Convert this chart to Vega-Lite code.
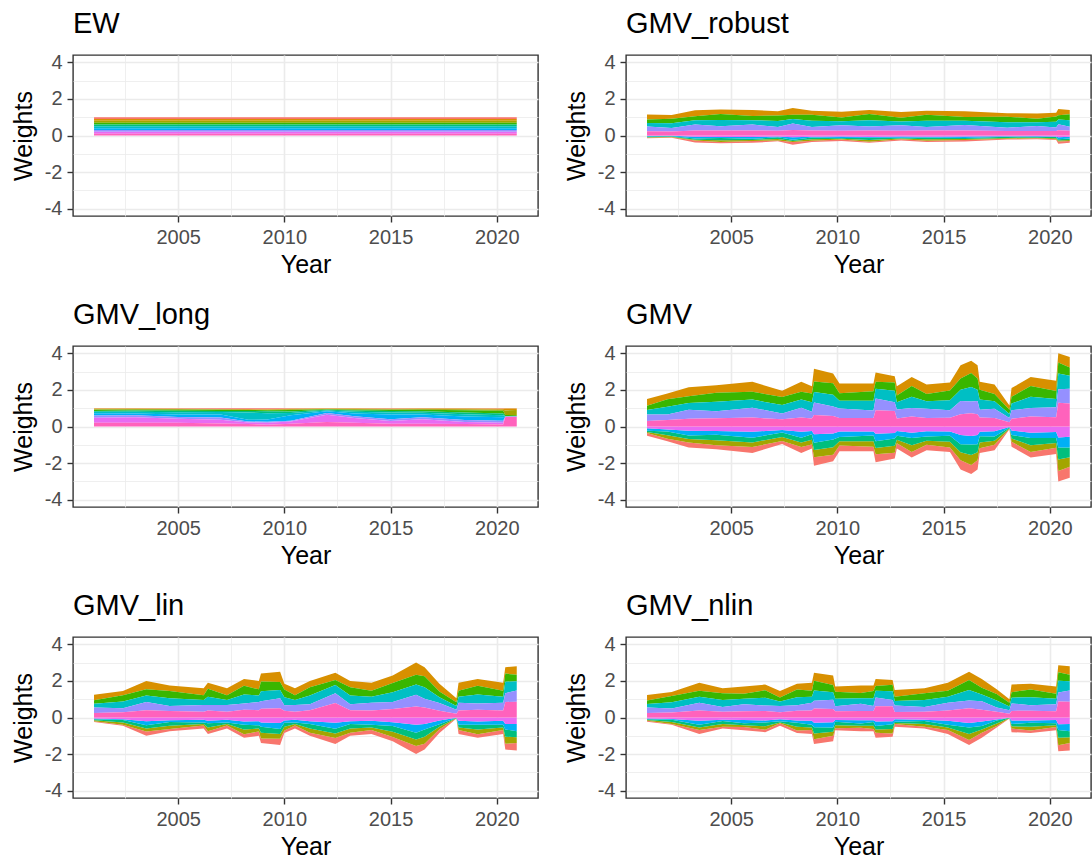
{
"$schema":"https://vega.github.io/schema/vega-lite/v6.json",
"columns":2,
"bounds":"flush",
"spacing":{"row":130,"column":88},
"padding":{"left":10,"top":9,"right":0,"bottom":5},
"config":{
"view":{"stroke":"#333333","strokeWidth":1.4},
"axis":{"domain":false,"gridColor":"#EBEBEB","tickColor":"#333333","tickSize":6,"tickWidth":1.4,"labelColor":"#4D4D4D","labelFontSize":20,"labelFont":"Liberation Sans","titleFont":"Liberation Sans","titleFontSize":25,"titleFontWeight":"normal","titleColor":"#000000","labelPadding":5,"titlePadding":5},
"axisY":{"titlePadding":8},
"title":{"font":"Liberation Sans","fontSize":29,"fontWeight":"normal","color":"#000000","anchor":"start","frame":"group","baseline":"alphabetic","offset":13}
},
"datasets":{
"EW":[
{"t":2001.04,"s":1,"w":0.1},{"t":2001.04,"s":2,"w":0.1},{"t":2001.04,"s":3,"w":0.1},{"t":2001.04,"s":4,"w":0.1},{"t":2001.04,"s":5,"w":0.1},{"t":2001.04,"s":6,"w":0.1},{"t":2001.04,"s":7,"w":0.1},{"t":2001.04,"s":8,"w":0.1},{"t":2001.04,"s":9,"w":0.1},{"t":2001.04,"s":10,"w":0.1},
{"t":2020.94,"s":1,"w":0.1},{"t":2020.94,"s":2,"w":0.1},{"t":2020.94,"s":3,"w":0.1},{"t":2020.94,"s":4,"w":0.1},{"t":2020.94,"s":5,"w":0.1},{"t":2020.94,"s":6,"w":0.1},{"t":2020.94,"s":7,"w":0.1},{"t":2020.94,"s":8,"w":0.1},{"t":2020.94,"s":9,"w":0.1},{"t":2020.94,"s":10,"w":0.1}
],
"ROB":[
{"t":2001.04,"s":1,"w":-0.03},{"t":2001.04,"s":2,"w":0.27},{"t":2001.04,"s":3,"w":-0.03},{"t":2001.04,"s":4,"w":0.19},{"t":2001.04,"s":5,"w":-0.03},{"t":2001.04,"s":6,"w":0.2},{"t":2001.04,"s":7,"w":-0.03},{"t":2001.04,"s":8,"w":0.26},{"t":2001.04,"s":9,"w":-0.03},{"t":2001.04,"s":10,"w":0.23},
{"t":2002.2,"s":1,"w":-0.02},{"t":2002.2,"s":2,"w":0.2},{"t":2002.2,"s":3,"w":-0.03},{"t":2002.2,"s":4,"w":0.25},{"t":2002.2,"s":5,"w":-0.03},{"t":2002.2,"s":6,"w":0.26},{"t":2002.2,"s":7,"w":-0.02},{"t":2002.2,"s":8,"w":0.19},{"t":2002.2,"s":9,"w":-0.02},{"t":2002.2,"s":10,"w":0.22},
{"t":2003.3,"s":1,"w":-0.1},{"t":2003.3,"s":2,"w":0.33},{"t":2003.3,"s":3,"w":-0.05},{"t":2003.3,"s":4,"w":0.22},{"t":2003.3,"s":5,"w":-0.06},{"t":2003.3,"s":6,"w":0.23},{"t":2003.3,"s":7,"w":-0.1},{"t":2003.3,"s":8,"w":0.32},{"t":2003.3,"s":9,"w":-0.07},{"t":2003.3,"s":10,"w":0.28},
{"t":2004.5,"s":1,"w":-0.06},{"t":2004.5,"s":2,"w":0.24},{"t":2004.5,"s":3,"w":-0.1},{"t":2004.5,"s":4,"w":0.33},{"t":2004.5,"s":5,"w":-0.12},{"t":2004.5,"s":6,"w":0.35},{"t":2004.5,"s":7,"w":-0.06},{"t":2004.5,"s":8,"w":0.22},{"t":2004.5,"s":9,"w":-0.08},{"t":2004.5,"s":10,"w":0.28},
{"t":2006,"s":1,"w":-0.1},{"t":2006,"s":2,"w":0.33},{"t":2006,"s":3,"w":-0.06},{"t":2006,"s":4,"w":0.23},{"t":2006,"s":5,"w":-0.06},{"t":2006,"s":6,"w":0.24},{"t":2006,"s":7,"w":-0.1},{"t":2006,"s":8,"w":0.32},{"t":2006,"s":9,"w":-0.08},{"t":2006,"s":10,"w":0.28},
{"t":2007.2,"s":1,"w":-0.05},{"t":2007.2,"s":2,"w":0.22},{"t":2007.2,"s":3,"w":-0.08},{"t":2007.2,"s":4,"w":0.31},{"t":2007.2,"s":5,"w":-0.09},{"t":2007.2,"s":6,"w":0.33},{"t":2007.2,"s":7,"w":-0.04},{"t":2007.2,"s":8,"w":0.2},{"t":2007.2,"s":9,"w":-0.06},{"t":2007.2,"s":10,"w":0.26},
{"t":2007.9,"s":1,"w":-0.14},{"t":2007.9,"s":2,"w":0.36},{"t":2007.9,"s":3,"w":-0.06},{"t":2007.9,"s":4,"w":0.24},{"t":2007.9,"s":5,"w":-0.07},{"t":2007.9,"s":6,"w":0.25},{"t":2007.9,"s":7,"w":-0.13},{"t":2007.9,"s":8,"w":0.35},{"t":2007.9,"s":9,"w":-0.1},{"t":2007.9,"s":10,"w":0.3},
{"t":2008.8,"s":1,"w":-0.06},{"t":2008.8,"s":2,"w":0.22},{"t":2008.8,"s":3,"w":-0.08},{"t":2008.8,"s":4,"w":0.32},{"t":2008.8,"s":5,"w":-0.1},{"t":2008.8,"s":6,"w":0.34},{"t":2008.8,"s":7,"w":-0.04},{"t":2008.8,"s":8,"w":0.2},{"t":2008.8,"s":9,"w":-0.07},{"t":2008.8,"s":10,"w":0.27},
{"t":2010.2,"s":1,"w":-0.08},{"t":2010.2,"s":2,"w":0.31},{"t":2010.2,"s":3,"w":-0.04},{"t":2010.2,"s":4,"w":0.21},{"t":2010.2,"s":5,"w":-0.05},{"t":2010.2,"s":6,"w":0.22},{"t":2010.2,"s":7,"w":-0.07},{"t":2010.2,"s":8,"w":0.3},{"t":2010.2,"s":9,"w":-0.06},{"t":2010.2,"s":10,"w":0.26},
{"t":2011.5,"s":1,"w":-0.06},{"t":2011.5,"s":2,"w":0.23},{"t":2011.5,"s":3,"w":-0.1},{"t":2011.5,"s":4,"w":0.33},{"t":2011.5,"s":5,"w":-0.12},{"t":2011.5,"s":6,"w":0.35},{"t":2011.5,"s":7,"w":-0.04},{"t":2011.5,"s":8,"w":0.21},{"t":2011.5,"s":9,"w":-0.08},{"t":2011.5,"s":10,"w":0.28},
{"t":2013,"s":1,"w":-0.08},{"t":2013,"s":2,"w":0.31},{"t":2013,"s":3,"w":-0.04},{"t":2013,"s":4,"w":0.2},{"t":2013,"s":5,"w":-0.04},{"t":2013,"s":6,"w":0.21},{"t":2013,"s":7,"w":-0.07},{"t":2013,"s":8,"w":0.3},{"t":2013,"s":9,"w":-0.05},{"t":2013,"s":10,"w":0.26},
{"t":2014.2,"s":1,"w":-0.06},{"t":2014.2,"s":2,"w":0.22},{"t":2014.2,"s":3,"w":-0.08},{"t":2014.2,"s":4,"w":0.32},{"t":2014.2,"s":5,"w":-0.1},{"t":2014.2,"s":6,"w":0.34},{"t":2014.2,"s":7,"w":-0.04},{"t":2014.2,"s":8,"w":0.2},{"t":2014.2,"s":9,"w":-0.07},{"t":2014.2,"s":10,"w":0.27},
{"t":2016,"s":1,"w":-0.09},{"t":2016,"s":2,"w":0.32},{"t":2016,"s":3,"w":-0.05},{"t":2016,"s":4,"w":0.21},{"t":2016,"s":5,"w":-0.05},{"t":2016,"s":6,"w":0.22},{"t":2016,"s":7,"w":-0.08},{"t":2016,"s":8,"w":0.31},{"t":2016,"s":9,"w":-0.06},{"t":2016,"s":10,"w":0.27},
{"t":2018,"s":1,"w":-0.04},{"t":2018,"s":2,"w":0.2},{"t":2018,"s":3,"w":-0.05},{"t":2018,"s":4,"w":0.29},{"t":2018,"s":5,"w":-0.06},{"t":2018,"s":6,"w":0.3},{"t":2018,"s":7,"w":-0.03},{"t":2018,"s":8,"w":0.19},{"t":2018,"s":9,"w":-0.04},{"t":2018,"s":10,"w":0.24},
{"t":2019.4,"s":1,"w":-0.05},{"t":2019.4,"s":2,"w":0.28},{"t":2019.4,"s":3,"w":-0.03},{"t":2019.4,"s":4,"w":0.2},{"t":2019.4,"s":5,"w":-0.04},{"t":2019.4,"s":6,"w":0.2},{"t":2019.4,"s":7,"w":-0.04},{"t":2019.4,"s":8,"w":0.28},{"t":2019.4,"s":9,"w":-0.04},{"t":2019.4,"s":10,"w":0.24},
{"t":2020.3,"s":1,"w":-0.04},{"t":2020.3,"s":2,"w":0.21},{"t":2020.3,"s":3,"w":-0.06},{"t":2020.3,"s":4,"w":0.29},{"t":2020.3,"s":5,"w":-0.07},{"t":2020.3,"s":6,"w":0.31},{"t":2020.3,"s":7,"w":-0.03},{"t":2020.3,"s":8,"w":0.19},{"t":2020.3,"s":9,"w":-0.05},{"t":2020.3,"s":10,"w":0.25},
{"t":2020.4,"s":1,"w":-0.12},{"t":2020.4,"s":2,"w":0.34},{"t":2020.4,"s":3,"w":-0.06},{"t":2020.4,"s":4,"w":0.24},{"t":2020.4,"s":5,"w":-0.07},{"t":2020.4,"s":6,"w":0.25},{"t":2020.4,"s":7,"w":-0.11},{"t":2020.4,"s":8,"w":0.33},{"t":2020.4,"s":9,"w":-0.09},{"t":2020.4,"s":10,"w":0.29},
{"t":2020.94,"s":1,"w":-0.1},{"t":2020.94,"s":2,"w":0.24},{"t":2020.94,"s":3,"w":-0.06},{"t":2020.94,"s":4,"w":0.33},{"t":2020.94,"s":5,"w":-0.07},{"t":2020.94,"s":6,"w":0.35},{"t":2020.94,"s":7,"w":-0.1},{"t":2020.94,"s":8,"w":0.22},{"t":2020.94,"s":9,"w":-0.07},{"t":2020.94,"s":10,"w":0.26}
],
"LONG":[
{"t":2001.04,"s":1,"w":0.02},{"t":2001.04,"s":2,"w":0.04},{"t":2001.04,"s":3,"w":0.03},{"t":2001.04,"s":4,"w":0.06},{"t":2001.04,"s":5,"w":0.05},{"t":2001.04,"s":6,"w":0.08},{"t":2001.04,"s":7,"w":0.12},{"t":2001.04,"s":8,"w":0.12},{"t":2001.04,"s":9,"w":0.28},{"t":2001.04,"s":10,"w":0.2},
{"t":2003,"s":1,"w":0.02},{"t":2003,"s":2,"w":0.03},{"t":2003,"s":3,"w":0.03},{"t":2003,"s":4,"w":0.05},{"t":2003,"s":5,"w":0.06},{"t":2003,"s":6,"w":0.1},{"t":2003,"s":7,"w":0.1},{"t":2003,"s":8,"w":0.1},{"t":2003,"s":9,"w":0.3},{"t":2003,"s":10,"w":0.21},
{"t":2005,"s":1,"w":0.03},{"t":2005,"s":2,"w":0.02},{"t":2005,"s":3,"w":0.04},{"t":2005,"s":4,"w":0.05},{"t":2005,"s":5,"w":0.08},{"t":2005,"s":6,"w":0.12},{"t":2005,"s":7,"w":0.14},{"t":2005,"s":8,"w":0.1},{"t":2005,"s":9,"w":0.22},{"t":2005,"s":10,"w":0.2},
{"t":2007,"s":1,"w":0.04},{"t":2007,"s":2,"w":0.03},{"t":2007,"s":3,"w":0.02},{"t":2007,"s":4,"w":0.06},{"t":2007,"s":5,"w":0.06},{"t":2007,"s":6,"w":0.14},{"t":2007,"s":7,"w":0.16},{"t":2007,"s":8,"w":0.12},{"t":2007,"s":9,"w":0.2},{"t":2007,"s":10,"w":0.17},
{"t":2008.3,"s":1,"w":0.05},{"t":2008.3,"s":2,"w":0.03},{"t":2008.3,"s":3,"w":0.02},{"t":2008.3,"s":4,"w":0.05},{"t":2008.3,"s":5,"w":0.08},{"t":2008.3,"s":6,"w":0.4},{"t":2008.3,"s":7,"w":0.1},{"t":2008.3,"s":8,"w":0.05},{"t":2008.3,"s":9,"w":0.08},{"t":2008.3,"s":10,"w":0.14},
{"t":2009.2,"s":1,"w":0.06},{"t":2009.2,"s":2,"w":0.02},{"t":2009.2,"s":3,"w":0.03},{"t":2009.2,"s":4,"w":0.06},{"t":2009.2,"s":5,"w":0.1},{"t":2009.2,"s":6,"w":0.35},{"t":2009.2,"s":7,"w":0.12},{"t":2009.2,"s":8,"w":0.06},{"t":2009.2,"s":9,"w":0.1},{"t":2009.2,"s":10,"w":0.1},
{"t":2010.3,"s":1,"w":0.03},{"t":2010.3,"s":2,"w":0.03},{"t":2010.3,"s":3,"w":0.04},{"t":2010.3,"s":4,"w":0.08},{"t":2010.3,"s":5,"w":0.08},{"t":2010.3,"s":6,"w":0.12},{"t":2010.3,"s":7,"w":0.3},{"t":2010.3,"s":8,"w":0.05},{"t":2010.3,"s":9,"w":0.12},{"t":2010.3,"s":10,"w":0.15},
{"t":2012,"s":1,"w":0.02},{"t":2012,"s":2,"w":0.02},{"t":2012,"s":3,"w":0.02},{"t":2012,"s":4,"w":0.03},{"t":2012,"s":5,"w":0.03},{"t":2012,"s":6,"w":0.04},{"t":2012,"s":7,"w":0.1},{"t":2012,"s":8,"w":0.1},{"t":2012,"s":9,"w":0.4},{"t":2012,"s":10,"w":0.24},
{"t":2013.3,"s":1,"w":0.02},{"t":2013.3,"s":2,"w":0.03},{"t":2013.3,"s":3,"w":0.03},{"t":2013.3,"s":4,"w":0.05},{"t":2013.3,"s":5,"w":0.06},{"t":2013.3,"s":6,"w":0.1},{"t":2013.3,"s":7,"w":0.15},{"t":2013.3,"s":8,"w":0.1},{"t":2013.3,"s":9,"w":0.26},{"t":2013.3,"s":10,"w":0.2},
{"t":2015,"s":1,"w":0.03},{"t":2015,"s":2,"w":0.03},{"t":2015,"s":3,"w":0.03},{"t":2015,"s":4,"w":0.06},{"t":2015,"s":5,"w":0.08},{"t":2015,"s":6,"w":0.12},{"t":2015,"s":7,"w":0.25},{"t":2015,"s":8,"w":0.1},{"t":2015,"s":9,"w":0.15},{"t":2015,"s":10,"w":0.15},
{"t":2016.5,"s":1,"w":0.02},{"t":2016.5,"s":2,"w":0.03},{"t":2016.5,"s":3,"w":0.04},{"t":2016.5,"s":4,"w":0.08},{"t":2016.5,"s":5,"w":0.08},{"t":2016.5,"s":6,"w":0.1},{"t":2016.5,"s":7,"w":0.15},{"t":2016.5,"s":8,"w":0.1},{"t":2016.5,"s":9,"w":0.25},{"t":2016.5,"s":10,"w":0.15},
{"t":2018.5,"s":1,"w":0.02},{"t":2018.5,"s":2,"w":0.04},{"t":2018.5,"s":3,"w":0.05},{"t":2018.5,"s":4,"w":0.12},{"t":2018.5,"s":5,"w":0.1},{"t":2018.5,"s":6,"w":0.12},{"t":2018.5,"s":7,"w":0.2},{"t":2018.5,"s":8,"w":0.1},{"t":2018.5,"s":9,"w":0.12},{"t":2018.5,"s":10,"w":0.13},
{"t":2020.3,"s":1,"w":0.03},{"t":2020.3,"s":2,"w":0.05},{"t":2020.3,"s":3,"w":0.06},{"t":2020.3,"s":4,"w":0.15},{"t":2020.3,"s":5,"w":0.1},{"t":2020.3,"s":6,"w":0.1},{"t":2020.3,"s":7,"w":0.2},{"t":2020.3,"s":8,"w":0.1},{"t":2020.3,"s":9,"w":0.1},{"t":2020.3,"s":10,"w":0.11},
{"t":2020.4,"s":1,"w":0.02},{"t":2020.4,"s":2,"w":0.1},{"t":2020.4,"s":3,"w":0.25},{"t":2020.4,"s":4,"w":0.05},{"t":2020.4,"s":5,"w":0.02},{"t":2020.4,"s":6,"w":0.01},{"t":2020.4,"s":7,"w":0.01},{"t":2020.4,"s":8,"w":0.01},{"t":2020.4,"s":9,"w":0.01},{"t":2020.4,"s":10,"w":0.52},
{"t":2020.94,"s":1,"w":0.02},{"t":2020.94,"s":2,"w":0.08},{"t":2020.94,"s":3,"w":0.28},{"t":2020.94,"s":4,"w":0.04},{"t":2020.94,"s":5,"w":0.02},{"t":2020.94,"s":6,"w":0.01},{"t":2020.94,"s":7,"w":0.01},{"t":2020.94,"s":8,"w":0.01},{"t":2020.94,"s":9,"w":0.01},{"t":2020.94,"s":10,"w":0.52}
],
"GMV":[
{"t":2001.04,"s":1,"w":-0.14},{"t":2001.04,"s":2,"w":0.36},{"t":2001.04,"s":3,"w":-0.06},{"t":2001.04,"s":4,"w":0.24},{"t":2001.04,"s":5,"w":-0.07},{"t":2001.04,"s":6,"w":0.25},{"t":2001.04,"s":7,"w":-0.13},{"t":2001.04,"s":8,"w":0.35},{"t":2001.04,"s":9,"w":-0.1},{"t":2001.04,"s":10,"w":0.3},
{"t":2002,"s":1,"w":-0.13},{"t":2002,"s":2,"w":0.31},{"t":2002,"s":3,"w":-0.19},{"t":2002,"s":4,"w":0.41},{"t":2002,"s":5,"w":-0.21},{"t":2002,"s":6,"w":0.43},{"t":2002,"s":7,"w":-0.11},{"t":2002,"s":8,"w":0.29},{"t":2002,"s":9,"w":-0.16},{"t":2002,"s":10,"w":0.36},
{"t":2003,"s":1,"w":-0.27},{"t":2003,"s":2,"w":0.49},{"t":2003,"s":3,"w":-0.19},{"t":2003,"s":4,"w":0.37},{"t":2003,"s":5,"w":-0.2},{"t":2003,"s":6,"w":0.38},{"t":2003,"s":7,"w":-0.26},{"t":2003,"s":8,"w":0.48},{"t":2003,"s":9,"w":-0.23},{"t":2003,"s":10,"w":0.43},
{"t":2004.3,"s":1,"w":-0.22},{"t":2004.3,"s":2,"w":0.4},{"t":2004.3,"s":3,"w":-0.28},{"t":2004.3,"s":4,"w":0.5},{"t":2004.3,"s":5,"w":-0.3},{"t":2004.3,"s":6,"w":0.52},{"t":2004.3,"s":7,"w":-0.2},{"t":2004.3,"s":8,"w":0.38},{"t":2004.3,"s":9,"w":-0.25},{"t":2004.3,"s":10,"w":0.45},
{"t":2006,"s":1,"w":-0.33},{"t":2006,"s":2,"w":0.55},{"t":2006,"s":3,"w":-0.25},{"t":2006,"s":4,"w":0.43},{"t":2006,"s":5,"w":-0.26},{"t":2006,"s":6,"w":0.44},{"t":2006,"s":7,"w":-0.32},{"t":2006,"s":8,"w":0.54},{"t":2006,"s":9,"w":-0.29},{"t":2006,"s":10,"w":0.49},
{"t":2007.4,"s":1,"w":-0.16},{"t":2007.4,"s":2,"w":0.34},{"t":2007.4,"s":3,"w":-0.22},{"t":2007.4,"s":4,"w":0.44},{"t":2007.4,"s":5,"w":-0.24},{"t":2007.4,"s":6,"w":0.46},{"t":2007.4,"s":7,"w":-0.14},{"t":2007.4,"s":8,"w":0.32},{"t":2007.4,"s":9,"w":-0.19},{"t":2007.4,"s":10,"w":0.39},
{"t":2008.3,"s":1,"w":-0.33},{"t":2008.3,"s":2,"w":0.55},{"t":2008.3,"s":3,"w":-0.25},{"t":2008.3,"s":4,"w":0.43},{"t":2008.3,"s":5,"w":-0.26},{"t":2008.3,"s":6,"w":0.44},{"t":2008.3,"s":7,"w":-0.32},{"t":2008.3,"s":8,"w":0.54},{"t":2008.3,"s":9,"w":-0.29},{"t":2008.3,"s":10,"w":0.49},
{"t":2008.8,"s":1,"w":-0.21},{"t":2008.8,"s":2,"w":0.39},{"t":2008.8,"s":3,"w":-0.27},{"t":2008.8,"s":4,"w":0.49},{"t":2008.8,"s":5,"w":-0.29},{"t":2008.8,"s":6,"w":0.51},{"t":2008.8,"s":7,"w":-0.19},{"t":2008.8,"s":8,"w":0.37},{"t":2008.8,"s":9,"w":-0.24},{"t":2008.8,"s":10,"w":0.44},
{"t":2008.9,"s":1,"w":-0.47},{"t":2008.9,"s":2,"w":0.69},{"t":2008.9,"s":3,"w":-0.39},{"t":2008.9,"s":4,"w":0.57},{"t":2008.9,"s":5,"w":-0.4},{"t":2008.9,"s":6,"w":0.58},{"t":2008.9,"s":7,"w":-0.46},{"t":2008.9,"s":8,"w":0.68},{"t":2008.9,"s":9,"w":-0.43},{"t":2008.9,"s":10,"w":0.63},
{"t":2009.8,"s":1,"w":-0.35},{"t":2009.8,"s":2,"w":0.53},{"t":2009.8,"s":3,"w":-0.41},{"t":2009.8,"s":4,"w":0.63},{"t":2009.8,"s":5,"w":-0.43},{"t":2009.8,"s":6,"w":0.65},{"t":2009.8,"s":7,"w":-0.33},{"t":2009.8,"s":8,"w":0.51},{"t":2009.8,"s":9,"w":-0.38},{"t":2009.8,"s":10,"w":0.58},
{"t":2010.1,"s":1,"w":-0.31},{"t":2010.1,"s":2,"w":0.53},{"t":2010.1,"s":3,"w":-0.23},{"t":2010.1,"s":4,"w":0.41},{"t":2010.1,"s":5,"w":-0.24},{"t":2010.1,"s":6,"w":0.42},{"t":2010.1,"s":7,"w":-0.3},{"t":2010.1,"s":8,"w":0.52},{"t":2010.1,"s":9,"w":-0.27},{"t":2010.1,"s":10,"w":0.47},
{"t":2011.7,"s":1,"w":-0.24},{"t":2011.7,"s":2,"w":0.42},{"t":2011.7,"s":3,"w":-0.3},{"t":2011.7,"s":4,"w":0.52},{"t":2011.7,"s":5,"w":-0.32},{"t":2011.7,"s":6,"w":0.54},{"t":2011.7,"s":7,"w":-0.22},{"t":2011.7,"s":8,"w":0.4},{"t":2011.7,"s":9,"w":-0.27},{"t":2011.7,"s":10,"w":0.47},
{"t":2011.8,"s":1,"w":-0.43},{"t":2011.8,"s":2,"w":0.5},{"t":2011.8,"s":3,"w":-0.35},{"t":2011.8,"s":4,"w":0.38},{"t":2011.8,"s":5,"w":-0.36},{"t":2011.8,"s":6,"w":0.54},{"t":2011.8,"s":7,"w":-0.42},{"t":2011.8,"s":8,"w":0.64},{"t":2011.8,"s":9,"w":-0.39},{"t":2011.8,"s":10,"w":0.89},
{"t":2012.7,"s":1,"w":-0.32},{"t":2012.7,"s":2,"w":0.35},{"t":2012.7,"s":3,"w":-0.38},{"t":2012.7,"s":4,"w":0.45},{"t":2012.7,"s":5,"w":-0.4},{"t":2012.7,"s":6,"w":0.62},{"t":2012.7,"s":7,"w":-0.3},{"t":2012.7,"s":8,"w":0.48},{"t":2012.7,"s":9,"w":-0.35},{"t":2012.7,"s":10,"w":0.85},
{"t":2012.8,"s":1,"w":-0.28},{"t":2012.8,"s":2,"w":0.5},{"t":2012.8,"s":3,"w":-0.2},{"t":2012.8,"s":4,"w":0.38},{"t":2012.8,"s":5,"w":-0.21},{"t":2012.8,"s":6,"w":0.39},{"t":2012.8,"s":7,"w":-0.27},{"t":2012.8,"s":8,"w":0.49},{"t":2012.8,"s":9,"w":-0.24},{"t":2012.8,"s":10,"w":0.44},
{"t":2013.5,"s":1,"w":-0.31},{"t":2013.5,"s":2,"w":0.49},{"t":2013.5,"s":3,"w":-0.37},{"t":2013.5,"s":4,"w":0.59},{"t":2013.5,"s":5,"w":-0.39},{"t":2013.5,"s":6,"w":0.61},{"t":2013.5,"s":7,"w":-0.29},{"t":2013.5,"s":8,"w":0.47},{"t":2013.5,"s":9,"w":-0.34},{"t":2013.5,"s":10,"w":0.54},
{"t":2014.2,"s":1,"w":-0.3},{"t":2014.2,"s":2,"w":0.52},{"t":2014.2,"s":3,"w":-0.22},{"t":2014.2,"s":4,"w":0.4},{"t":2014.2,"s":5,"w":-0.23},{"t":2014.2,"s":6,"w":0.41},{"t":2014.2,"s":7,"w":-0.29},{"t":2014.2,"s":8,"w":0.51},{"t":2014.2,"s":9,"w":-0.26},{"t":2014.2,"s":10,"w":0.46},
{"t":2015.3,"s":1,"w":-0.25},{"t":2015.3,"s":2,"w":0.43},{"t":2015.3,"s":3,"w":-0.31},{"t":2015.3,"s":4,"w":0.53},{"t":2015.3,"s":5,"w":-0.33},{"t":2015.3,"s":6,"w":0.55},{"t":2015.3,"s":7,"w":-0.23},{"t":2015.3,"s":8,"w":0.41},{"t":2015.3,"s":9,"w":-0.28},{"t":2015.3,"s":10,"w":0.48},
{"t":2015.8,"s":1,"w":-0.51},{"t":2015.8,"s":2,"w":0.73},{"t":2015.8,"s":3,"w":-0.43},{"t":2015.8,"s":4,"w":0.61},{"t":2015.8,"s":5,"w":-0.44},{"t":2015.8,"s":6,"w":0.62},{"t":2015.8,"s":7,"w":-0.5},{"t":2015.8,"s":8,"w":0.72},{"t":2015.8,"s":9,"w":-0.47},{"t":2015.8,"s":10,"w":0.67},
{"t":2016.3,"s":1,"w":-0.49},{"t":2016.3,"s":2,"w":0.67},{"t":2016.3,"s":3,"w":-0.55},{"t":2016.3,"s":4,"w":0.77},{"t":2016.3,"s":5,"w":-0.57},{"t":2016.3,"s":6,"w":0.79},{"t":2016.3,"s":7,"w":-0.47},{"t":2016.3,"s":8,"w":0.65},{"t":2016.3,"s":9,"w":-0.52},{"t":2016.3,"s":10,"w":0.72},
{"t":2016.6,"s":1,"w":-0.51},{"t":2016.6,"s":2,"w":0.73},{"t":2016.6,"s":3,"w":-0.43},{"t":2016.6,"s":4,"w":0.61},{"t":2016.6,"s":5,"w":-0.44},{"t":2016.6,"s":6,"w":0.62},{"t":2016.6,"s":7,"w":-0.5},{"t":2016.6,"s":8,"w":0.72},{"t":2016.6,"s":9,"w":-0.47},{"t":2016.6,"s":10,"w":0.67},
{"t":2016.7,"s":1,"w":-0.26},{"t":2016.7,"s":2,"w":0.44},{"t":2016.7,"s":3,"w":-0.32},{"t":2016.7,"s":4,"w":0.54},{"t":2016.7,"s":5,"w":-0.34},{"t":2016.7,"s":6,"w":0.56},{"t":2016.7,"s":7,"w":-0.24},{"t":2016.7,"s":8,"w":0.42},{"t":2016.7,"s":9,"w":-0.29},{"t":2016.7,"s":10,"w":0.49},
{"t":2017.4,"s":1,"w":-0.3},{"t":2017.4,"s":2,"w":0.52},{"t":2017.4,"s":3,"w":-0.22},{"t":2017.4,"s":4,"w":0.4},{"t":2017.4,"s":5,"w":-0.23},{"t":2017.4,"s":6,"w":0.41},{"t":2017.4,"s":7,"w":-0.29},{"t":2017.4,"s":8,"w":0.51},{"t":2017.4,"s":9,"w":-0.26},{"t":2017.4,"s":10,"w":0.46},
{"t":2018.1,"s":1,"w":-0.03},{"t":2018.1,"s":2,"w":0.23},{"t":2018.1,"s":3,"w":-0.03},{"t":2018.1,"s":4,"w":0.23},{"t":2018.1,"s":5,"w":-0.03},{"t":2018.1,"s":6,"w":0.23},{"t":2018.1,"s":7,"w":-0.03},{"t":2018.1,"s":8,"w":0.23},{"t":2018.1,"s":9,"w":-0.03},{"t":2018.1,"s":10,"w":0.23},
{"t":2018.2,"s":1,"w":-0.26},{"t":2018.2,"s":2,"w":0.48},{"t":2018.2,"s":3,"w":-0.18},{"t":2018.2,"s":4,"w":0.36},{"t":2018.2,"s":5,"w":-0.19},{"t":2018.2,"s":6,"w":0.37},{"t":2018.2,"s":7,"w":-0.25},{"t":2018.2,"s":8,"w":0.47},{"t":2018.2,"s":9,"w":-0.22},{"t":2018.2,"s":10,"w":0.42},
{"t":2019.1,"s":1,"w":-0.31},{"t":2019.1,"s":2,"w":0.49},{"t":2019.1,"s":3,"w":-0.37},{"t":2019.1,"s":4,"w":0.59},{"t":2019.1,"s":5,"w":-0.39},{"t":2019.1,"s":6,"w":0.61},{"t":2019.1,"s":7,"w":-0.29},{"t":2019.1,"s":8,"w":0.47},{"t":2019.1,"s":9,"w":-0.34},{"t":2019.1,"s":10,"w":0.54},
{"t":2020.3,"s":1,"w":-0.34},{"t":2020.3,"s":2,"w":0.56},{"t":2020.3,"s":3,"w":-0.26},{"t":2020.3,"s":4,"w":0.44},{"t":2020.3,"s":5,"w":-0.27},{"t":2020.3,"s":6,"w":0.45},{"t":2020.3,"s":7,"w":-0.33},{"t":2020.3,"s":8,"w":0.55},{"t":2020.3,"s":9,"w":-0.3},{"t":2020.3,"s":10,"w":0.5},
{"t":2020.4,"s":1,"w":-0.57},{"t":2020.4,"s":2,"w":0.5},{"t":2020.4,"s":3,"w":-0.63},{"t":2020.4,"s":4,"w":0.6},{"t":2020.4,"s":5,"w":-0.65},{"t":2020.4,"s":6,"w":0.87},{"t":2020.4,"s":7,"w":-0.55},{"t":2020.4,"s":8,"w":0.73},{"t":2020.4,"s":9,"w":-0.6},{"t":2020.4,"s":10,"w":1.3},
{"t":2020.94,"s":1,"w":-0.6},{"t":2020.94,"s":2,"w":0.57},{"t":2020.94,"s":3,"w":-0.52},{"t":2020.94,"s":4,"w":0.45},{"t":2020.94,"s":5,"w":-0.53},{"t":2020.94,"s":6,"w":0.71},{"t":2020.94,"s":7,"w":-0.59},{"t":2020.94,"s":8,"w":0.81},{"t":2020.94,"s":9,"w":-0.56},{"t":2020.94,"s":10,"w":1.26}
],
"LIN":[
{"t":2001.04,"s":1,"w":-0.05},{"t":2001.04,"s":2,"w":0.31},{"t":2001.04,"s":3,"w":-0.05},{"t":2001.04,"s":4,"w":0.19},{"t":2001.04,"s":5,"w":-0.05},{"t":2001.04,"s":6,"w":0.2},{"t":2001.04,"s":7,"w":-0.05},{"t":2001.04,"s":8,"w":0.3},{"t":2001.04,"s":9,"w":-0.05},{"t":2001.04,"s":10,"w":0.25},
{"t":2002.4,"s":1,"w":-0.06},{"t":2002.4,"s":2,"w":0.24},{"t":2002.4,"s":3,"w":-0.12},{"t":2002.4,"s":4,"w":0.34},{"t":2002.4,"s":5,"w":-0.14},{"t":2002.4,"s":6,"w":0.36},{"t":2002.4,"s":7,"w":-0.04},{"t":2002.4,"s":8,"w":0.22},{"t":2002.4,"s":9,"w":-0.09},{"t":2002.4,"s":10,"w":0.29},
{"t":2003.5,"s":1,"w":-0.24},{"t":2003.5,"s":2,"w":0.46},{"t":2003.5,"s":3,"w":-0.16},{"t":2003.5,"s":4,"w":0.34},{"t":2003.5,"s":5,"w":-0.17},{"t":2003.5,"s":6,"w":0.35},{"t":2003.5,"s":7,"w":-0.23},{"t":2003.5,"s":8,"w":0.45},{"t":2003.5,"s":9,"w":-0.2},{"t":2003.5,"s":10,"w":0.4},
{"t":2004.6,"s":1,"w":-0.12},{"t":2004.6,"s":2,"w":0.3},{"t":2004.6,"s":3,"w":-0.18},{"t":2004.6,"s":4,"w":0.4},{"t":2004.6,"s":5,"w":-0.2},{"t":2004.6,"s":6,"w":0.42},{"t":2004.6,"s":7,"w":-0.1},{"t":2004.6,"s":8,"w":0.28},{"t":2004.6,"s":9,"w":-0.15},{"t":2004.6,"s":10,"w":0.35},
{"t":2006.2,"s":1,"w":-0.16},{"t":2006.2,"s":2,"w":0.38},{"t":2006.2,"s":3,"w":-0.08},{"t":2006.2,"s":4,"w":0.26},{"t":2006.2,"s":5,"w":-0.09},{"t":2006.2,"s":6,"w":0.27},{"t":2006.2,"s":7,"w":-0.15},{"t":2006.2,"s":8,"w":0.37},{"t":2006.2,"s":9,"w":-0.12},{"t":2006.2,"s":10,"w":0.32},
{"t":2006.4,"s":1,"w":-0.15},{"t":2006.4,"s":2,"w":0.33},{"t":2006.4,"s":3,"w":-0.21},{"t":2006.4,"s":4,"w":0.43},{"t":2006.4,"s":5,"w":-0.23},{"t":2006.4,"s":6,"w":0.45},{"t":2006.4,"s":7,"w":-0.13},{"t":2006.4,"s":8,"w":0.31},{"t":2006.4,"s":9,"w":-0.18},{"t":2006.4,"s":10,"w":0.38},
{"t":2007.3,"s":1,"w":-0.16},{"t":2007.3,"s":2,"w":0.38},{"t":2007.3,"s":3,"w":-0.08},{"t":2007.3,"s":4,"w":0.26},{"t":2007.3,"s":5,"w":-0.09},{"t":2007.3,"s":6,"w":0.27},{"t":2007.3,"s":7,"w":-0.15},{"t":2007.3,"s":8,"w":0.37},{"t":2007.3,"s":9,"w":-0.12},{"t":2007.3,"s":10,"w":0.32},
{"t":2008.1,"s":1,"w":-0.19},{"t":2008.1,"s":2,"w":0.37},{"t":2008.1,"s":3,"w":-0.25},{"t":2008.1,"s":4,"w":0.47},{"t":2008.1,"s":5,"w":-0.27},{"t":2008.1,"s":6,"w":0.49},{"t":2008.1,"s":7,"w":-0.17},{"t":2008.1,"s":8,"w":0.35},{"t":2008.1,"s":9,"w":-0.22},{"t":2008.1,"s":10,"w":0.42},
{"t":2008.8,"s":1,"w":-0.24},{"t":2008.8,"s":2,"w":0.46},{"t":2008.8,"s":3,"w":-0.16},{"t":2008.8,"s":4,"w":0.34},{"t":2008.8,"s":5,"w":-0.17},{"t":2008.8,"s":6,"w":0.35},{"t":2008.8,"s":7,"w":-0.23},{"t":2008.8,"s":8,"w":0.45},{"t":2008.8,"s":9,"w":-0.2},{"t":2008.8,"s":10,"w":0.4},
{"t":2008.9,"s":1,"w":-0.25},{"t":2008.9,"s":2,"w":0.43},{"t":2008.9,"s":3,"w":-0.31},{"t":2008.9,"s":4,"w":0.53},{"t":2008.9,"s":5,"w":-0.33},{"t":2008.9,"s":6,"w":0.55},{"t":2008.9,"s":7,"w":-0.23},{"t":2008.9,"s":8,"w":0.41},{"t":2008.9,"s":9,"w":-0.28},{"t":2008.9,"s":10,"w":0.48},
{"t":2009.8,"s":1,"w":-0.34},{"t":2009.8,"s":2,"w":0.56},{"t":2009.8,"s":3,"w":-0.26},{"t":2009.8,"s":4,"w":0.44},{"t":2009.8,"s":5,"w":-0.27},{"t":2009.8,"s":6,"w":0.45},{"t":2009.8,"s":7,"w":-0.33},{"t":2009.8,"s":8,"w":0.55},{"t":2009.8,"s":9,"w":-0.3},{"t":2009.8,"s":10,"w":0.5},
{"t":2010,"s":1,"w":-0.14},{"t":2010,"s":2,"w":0.32},{"t":2010,"s":3,"w":-0.2},{"t":2010,"s":4,"w":0.42},{"t":2010,"s":5,"w":-0.22},{"t":2010,"s":6,"w":0.44},{"t":2010,"s":7,"w":-0.12},{"t":2010,"s":8,"w":0.3},{"t":2010,"s":9,"w":-0.17},{"t":2010,"s":10,"w":0.37},
{"t":2010.5,"s":1,"w":-0.16},{"t":2010.5,"s":2,"w":0.38},{"t":2010.5,"s":3,"w":-0.08},{"t":2010.5,"s":4,"w":0.26},{"t":2010.5,"s":5,"w":-0.09},{"t":2010.5,"s":6,"w":0.27},{"t":2010.5,"s":7,"w":-0.15},{"t":2010.5,"s":8,"w":0.37},{"t":2010.5,"s":9,"w":-0.12},{"t":2010.5,"s":10,"w":0.32},
{"t":2011.2,"s":1,"w":-0.17},{"t":2011.2,"s":2,"w":0.35},{"t":2011.2,"s":3,"w":-0.23},{"t":2011.2,"s":4,"w":0.45},{"t":2011.2,"s":5,"w":-0.25},{"t":2011.2,"s":6,"w":0.47},{"t":2011.2,"s":7,"w":-0.15},{"t":2011.2,"s":8,"w":0.33},{"t":2011.2,"s":9,"w":-0.2},{"t":2011.2,"s":10,"w":0.4},
{"t":2012.4,"s":1,"w":-0.33},{"t":2012.4,"s":2,"w":0.4},{"t":2012.4,"s":3,"w":-0.25},{"t":2012.4,"s":4,"w":0.28},{"t":2012.4,"s":5,"w":-0.26},{"t":2012.4,"s":6,"w":0.44},{"t":2012.4,"s":7,"w":-0.32},{"t":2012.4,"s":8,"w":0.54},{"t":2012.4,"s":9,"w":-0.29},{"t":2012.4,"s":10,"w":0.79},
{"t":2013.1,"s":1,"w":-0.17},{"t":2013.1,"s":2,"w":0.35},{"t":2013.1,"s":3,"w":-0.23},{"t":2013.1,"s":4,"w":0.45},{"t":2013.1,"s":5,"w":-0.25},{"t":2013.1,"s":6,"w":0.47},{"t":2013.1,"s":7,"w":-0.15},{"t":2013.1,"s":8,"w":0.33},{"t":2013.1,"s":9,"w":-0.2},{"t":2013.1,"s":10,"w":0.4},
{"t":2014.1,"s":1,"w":-0.22},{"t":2014.1,"s":2,"w":0.44},{"t":2014.1,"s":3,"w":-0.14},{"t":2014.1,"s":4,"w":0.32},{"t":2014.1,"s":5,"w":-0.15},{"t":2014.1,"s":6,"w":0.33},{"t":2014.1,"s":7,"w":-0.21},{"t":2014.1,"s":8,"w":0.43},{"t":2014.1,"s":9,"w":-0.18},{"t":2014.1,"s":10,"w":0.38},
{"t":2015.1,"s":1,"w":-0.23},{"t":2015.1,"s":2,"w":0.41},{"t":2015.1,"s":3,"w":-0.29},{"t":2015.1,"s":4,"w":0.51},{"t":2015.1,"s":5,"w":-0.31},{"t":2015.1,"s":6,"w":0.53},{"t":2015.1,"s":7,"w":-0.21},{"t":2015.1,"s":8,"w":0.39},{"t":2015.1,"s":9,"w":-0.26},{"t":2015.1,"s":10,"w":0.46},
{"t":2016.2,"s":1,"w":-0.44},{"t":2016.2,"s":2,"w":0.66},{"t":2016.2,"s":3,"w":-0.36},{"t":2016.2,"s":4,"w":0.54},{"t":2016.2,"s":5,"w":-0.37},{"t":2016.2,"s":6,"w":0.55},{"t":2016.2,"s":7,"w":-0.43},{"t":2016.2,"s":8,"w":0.65},{"t":2016.2,"s":9,"w":-0.4},{"t":2016.2,"s":10,"w":0.6},
{"t":2016.6,"s":1,"w":-0.32},{"t":2016.6,"s":2,"w":0.5},{"t":2016.6,"s":3,"w":-0.38},{"t":2016.6,"s":4,"w":0.6},{"t":2016.6,"s":5,"w":-0.4},{"t":2016.6,"s":6,"w":0.62},{"t":2016.6,"s":7,"w":-0.3},{"t":2016.6,"s":8,"w":0.48},{"t":2016.6,"s":9,"w":-0.35},{"t":2016.6,"s":10,"w":0.55},
{"t":2017.3,"s":1,"w":-0.21},{"t":2017.3,"s":2,"w":0.43},{"t":2017.3,"s":3,"w":-0.13},{"t":2017.3,"s":4,"w":0.31},{"t":2017.3,"s":5,"w":-0.14},{"t":2017.3,"s":6,"w":0.32},{"t":2017.3,"s":7,"w":-0.2},{"t":2017.3,"s":8,"w":0.42},{"t":2017.3,"s":9,"w":-0.17},{"t":2017.3,"s":10,"w":0.37},
{"t":2018.1,"s":1,"w":-0.01},{"t":2018.1,"s":2,"w":0.21},{"t":2018.1,"s":3,"w":-0.01},{"t":2018.1,"s":4,"w":0.21},{"t":2018.1,"s":5,"w":-0.01},{"t":2018.1,"s":6,"w":0.21},{"t":2018.1,"s":7,"w":-0.01},{"t":2018.1,"s":8,"w":0.21},{"t":2018.1,"s":9,"w":-0.01},{"t":2018.1,"s":10,"w":0.21},
{"t":2018.2,"s":1,"w":-0.22},{"t":2018.2,"s":2,"w":0.44},{"t":2018.2,"s":3,"w":-0.14},{"t":2018.2,"s":4,"w":0.32},{"t":2018.2,"s":5,"w":-0.15},{"t":2018.2,"s":6,"w":0.33},{"t":2018.2,"s":7,"w":-0.21},{"t":2018.2,"s":8,"w":0.43},{"t":2018.2,"s":9,"w":-0.18},{"t":2018.2,"s":10,"w":0.38},
{"t":2019.1,"s":1,"w":-0.19},{"t":2019.1,"s":2,"w":0.37},{"t":2019.1,"s":3,"w":-0.25},{"t":2019.1,"s":4,"w":0.47},{"t":2019.1,"s":5,"w":-0.27},{"t":2019.1,"s":6,"w":0.49},{"t":2019.1,"s":7,"w":-0.17},{"t":2019.1,"s":8,"w":0.35},{"t":2019.1,"s":9,"w":-0.22},{"t":2019.1,"s":10,"w":0.42},
{"t":2020.3,"s":1,"w":-0.22},{"t":2020.3,"s":2,"w":0.44},{"t":2020.3,"s":3,"w":-0.14},{"t":2020.3,"s":4,"w":0.32},{"t":2020.3,"s":5,"w":-0.15},{"t":2020.3,"s":6,"w":0.33},{"t":2020.3,"s":7,"w":-0.21},{"t":2020.3,"s":8,"w":0.43},{"t":2020.3,"s":9,"w":-0.18},{"t":2020.3,"s":10,"w":0.38},
{"t":2020.4,"s":1,"w":-0.32},{"t":2020.4,"s":2,"w":0.35},{"t":2020.4,"s":3,"w":-0.38},{"t":2020.4,"s":4,"w":0.45},{"t":2020.4,"s":5,"w":-0.4},{"t":2020.4,"s":6,"w":0.62},{"t":2020.4,"s":7,"w":-0.3},{"t":2020.4,"s":8,"w":0.48},{"t":2020.4,"s":9,"w":-0.35},{"t":2020.4,"s":10,"w":0.85},
{"t":2020.94,"s":1,"w":-0.4},{"t":2020.94,"s":2,"w":0.47},{"t":2020.94,"s":3,"w":-0.32},{"t":2020.94,"s":4,"w":0.35},{"t":2020.94,"s":5,"w":-0.33},{"t":2020.94,"s":6,"w":0.51},{"t":2020.94,"s":7,"w":-0.39},{"t":2020.94,"s":8,"w":0.61},{"t":2020.94,"s":9,"w":-0.36},{"t":2020.94,"s":10,"w":0.86}
],
"NLIN":[
{"t":2001.04,"s":1,"w":-0.05},{"t":2001.04,"s":2,"w":0.3},{"t":2001.04,"s":3,"w":-0.04},{"t":2001.04,"s":4,"w":0.19},{"t":2001.04,"s":5,"w":-0.05},{"t":2001.04,"s":6,"w":0.2},{"t":2001.04,"s":7,"w":-0.04},{"t":2001.04,"s":8,"w":0.29},{"t":2001.04,"s":9,"w":-0.05},{"t":2001.04,"s":10,"w":0.25},
{"t":2002.2,"s":1,"w":-0.05},{"t":2002.2,"s":2,"w":0.23},{"t":2002.2,"s":3,"w":-0.11},{"t":2002.2,"s":4,"w":0.33},{"t":2002.2,"s":5,"w":-0.12},{"t":2002.2,"s":6,"w":0.35},{"t":2002.2,"s":7,"w":-0.04},{"t":2002.2,"s":8,"w":0.21},{"t":2002.2,"s":9,"w":-0.08},{"t":2002.2,"s":10,"w":0.28},
{"t":2003.5,"s":1,"w":-0.22},{"t":2003.5,"s":2,"w":0.44},{"t":2003.5,"s":3,"w":-0.14},{"t":2003.5,"s":4,"w":0.32},{"t":2003.5,"s":5,"w":-0.15},{"t":2003.5,"s":6,"w":0.33},{"t":2003.5,"s":7,"w":-0.21},{"t":2003.5,"s":8,"w":0.43},{"t":2003.5,"s":9,"w":-0.18},{"t":2003.5,"s":10,"w":0.38},
{"t":2004.6,"s":1,"w":-0.09},{"t":2004.6,"s":2,"w":0.27},{"t":2004.6,"s":3,"w":-0.15},{"t":2004.6,"s":4,"w":0.37},{"t":2004.6,"s":5,"w":-0.17},{"t":2004.6,"s":6,"w":0.39},{"t":2004.6,"s":7,"w":-0.07},{"t":2004.6,"s":8,"w":0.25},{"t":2004.6,"s":9,"w":-0.12},{"t":2004.6,"s":10,"w":0.32},
{"t":2005.6,"s":1,"w":-0.18},{"t":2005.6,"s":2,"w":0.4},{"t":2005.6,"s":3,"w":-0.1},{"t":2005.6,"s":4,"w":0.28},{"t":2005.6,"s":5,"w":-0.11},{"t":2005.6,"s":6,"w":0.29},{"t":2005.6,"s":7,"w":-0.17},{"t":2005.6,"s":8,"w":0.39},{"t":2005.6,"s":9,"w":-0.14},{"t":2005.6,"s":10,"w":0.34},
{"t":2006.6,"s":1,"w":-0.13},{"t":2006.6,"s":2,"w":0.31},{"t":2006.6,"s":3,"w":-0.19},{"t":2006.6,"s":4,"w":0.41},{"t":2006.6,"s":5,"w":-0.21},{"t":2006.6,"s":6,"w":0.43},{"t":2006.6,"s":7,"w":-0.11},{"t":2006.6,"s":8,"w":0.29},{"t":2006.6,"s":9,"w":-0.16},{"t":2006.6,"s":10,"w":0.36},
{"t":2007.3,"s":1,"w":-0.13},{"t":2007.3,"s":2,"w":0.35},{"t":2007.3,"s":3,"w":-0.05},{"t":2007.3,"s":4,"w":0.23},{"t":2007.3,"s":5,"w":-0.06},{"t":2007.3,"s":6,"w":0.24},{"t":2007.3,"s":7,"w":-0.12},{"t":2007.3,"s":8,"w":0.34},{"t":2007.3,"s":9,"w":-0.09},{"t":2007.3,"s":10,"w":0.29},
{"t":2008.1,"s":1,"w":-0.14},{"t":2008.1,"s":2,"w":0.32},{"t":2008.1,"s":3,"w":-0.2},{"t":2008.1,"s":4,"w":0.42},{"t":2008.1,"s":5,"w":-0.22},{"t":2008.1,"s":6,"w":0.44},{"t":2008.1,"s":7,"w":-0.12},{"t":2008.1,"s":8,"w":0.3},{"t":2008.1,"s":9,"w":-0.17},{"t":2008.1,"s":10,"w":0.37},
{"t":2008.8,"s":1,"w":-0.22},{"t":2008.8,"s":2,"w":0.44},{"t":2008.8,"s":3,"w":-0.14},{"t":2008.8,"s":4,"w":0.32},{"t":2008.8,"s":5,"w":-0.15},{"t":2008.8,"s":6,"w":0.33},{"t":2008.8,"s":7,"w":-0.21},{"t":2008.8,"s":8,"w":0.43},{"t":2008.8,"s":9,"w":-0.18},{"t":2008.8,"s":10,"w":0.38},
{"t":2008.9,"s":1,"w":-0.26},{"t":2008.9,"s":2,"w":0.44},{"t":2008.9,"s":3,"w":-0.32},{"t":2008.9,"s":4,"w":0.54},{"t":2008.9,"s":5,"w":-0.34},{"t":2008.9,"s":6,"w":0.56},{"t":2008.9,"s":7,"w":-0.24},{"t":2008.9,"s":8,"w":0.42},{"t":2008.9,"s":9,"w":-0.29},{"t":2008.9,"s":10,"w":0.49},
{"t":2009.8,"s":1,"w":-0.3},{"t":2009.8,"s":2,"w":0.52},{"t":2009.8,"s":3,"w":-0.22},{"t":2009.8,"s":4,"w":0.4},{"t":2009.8,"s":5,"w":-0.23},{"t":2009.8,"s":6,"w":0.41},{"t":2009.8,"s":7,"w":-0.29},{"t":2009.8,"s":8,"w":0.51},{"t":2009.8,"s":9,"w":-0.26},{"t":2009.8,"s":10,"w":0.46},
{"t":2009.9,"s":1,"w":-0.11},{"t":2009.9,"s":2,"w":0.29},{"t":2009.9,"s":3,"w":-0.17},{"t":2009.9,"s":4,"w":0.39},{"t":2009.9,"s":5,"w":-0.19},{"t":2009.9,"s":6,"w":0.41},{"t":2009.9,"s":7,"w":-0.09},{"t":2009.9,"s":8,"w":0.27},{"t":2009.9,"s":9,"w":-0.14},{"t":2009.9,"s":10,"w":0.34},
{"t":2011.1,"s":1,"w":-0.19},{"t":2011.1,"s":2,"w":0.41},{"t":2011.1,"s":3,"w":-0.11},{"t":2011.1,"s":4,"w":0.29},{"t":2011.1,"s":5,"w":-0.12},{"t":2011.1,"s":6,"w":0.3},{"t":2011.1,"s":7,"w":-0.18},{"t":2011.1,"s":8,"w":0.4},{"t":2011.1,"s":9,"w":-0.15},{"t":2011.1,"s":10,"w":0.35},
{"t":2011.7,"s":1,"w":-0.12},{"t":2011.7,"s":2,"w":0.3},{"t":2011.7,"s":3,"w":-0.18},{"t":2011.7,"s":4,"w":0.4},{"t":2011.7,"s":5,"w":-0.2},{"t":2011.7,"s":6,"w":0.42},{"t":2011.7,"s":7,"w":-0.1},{"t":2011.7,"s":8,"w":0.28},{"t":2011.7,"s":9,"w":-0.15},{"t":2011.7,"s":10,"w":0.35},
{"t":2011.8,"s":1,"w":-0.26},{"t":2011.8,"s":2,"w":0.38},{"t":2011.8,"s":3,"w":-0.18},{"t":2011.8,"s":4,"w":0.26},{"t":2011.8,"s":5,"w":-0.19},{"t":2011.8,"s":6,"w":0.37},{"t":2011.8,"s":7,"w":-0.25},{"t":2011.8,"s":8,"w":0.47},{"t":2011.8,"s":9,"w":-0.22},{"t":2011.8,"s":10,"w":0.62},
{"t":2012.6,"s":1,"w":-0.18},{"t":2012.6,"s":2,"w":0.26},{"t":2012.6,"s":3,"w":-0.24},{"t":2012.6,"s":4,"w":0.36},{"t":2012.6,"s":5,"w":-0.26},{"t":2012.6,"s":6,"w":0.48},{"t":2012.6,"s":7,"w":-0.16},{"t":2012.6,"s":8,"w":0.34},{"t":2012.6,"s":9,"w":-0.21},{"t":2012.6,"s":10,"w":0.61},
{"t":2012.7,"s":1,"w":-0.14},{"t":2012.7,"s":2,"w":0.36},{"t":2012.7,"s":3,"w":-0.06},{"t":2012.7,"s":4,"w":0.24},{"t":2012.7,"s":5,"w":-0.07},{"t":2012.7,"s":6,"w":0.25},{"t":2012.7,"s":7,"w":-0.13},{"t":2012.7,"s":8,"w":0.35},{"t":2012.7,"s":9,"w":-0.1},{"t":2012.7,"s":10,"w":0.3},
{"t":2014.1,"s":1,"w":-0.09},{"t":2014.1,"s":2,"w":0.27},{"t":2014.1,"s":3,"w":-0.15},{"t":2014.1,"s":4,"w":0.37},{"t":2014.1,"s":5,"w":-0.17},{"t":2014.1,"s":6,"w":0.39},{"t":2014.1,"s":7,"w":-0.07},{"t":2014.1,"s":8,"w":0.25},{"t":2014.1,"s":9,"w":-0.12},{"t":2014.1,"s":10,"w":0.32},
{"t":2015.2,"s":1,"w":-0.22},{"t":2015.2,"s":2,"w":0.44},{"t":2015.2,"s":3,"w":-0.14},{"t":2015.2,"s":4,"w":0.32},{"t":2015.2,"s":5,"w":-0.15},{"t":2015.2,"s":6,"w":0.33},{"t":2015.2,"s":7,"w":-0.21},{"t":2015.2,"s":8,"w":0.43},{"t":2015.2,"s":9,"w":-0.18},{"t":2015.2,"s":10,"w":0.38},
{"t":2016.2,"s":1,"w":-0.27},{"t":2016.2,"s":2,"w":0.45},{"t":2016.2,"s":3,"w":-0.33},{"t":2016.2,"s":4,"w":0.55},{"t":2016.2,"s":5,"w":-0.35},{"t":2016.2,"s":6,"w":0.57},{"t":2016.2,"s":7,"w":-0.25},{"t":2016.2,"s":8,"w":0.43},{"t":2016.2,"s":9,"w":-0.3},{"t":2016.2,"s":10,"w":0.5},
{"t":2016.8,"s":1,"w":-0.26},{"t":2016.8,"s":2,"w":0.48},{"t":2016.8,"s":3,"w":-0.18},{"t":2016.8,"s":4,"w":0.36},{"t":2016.8,"s":5,"w":-0.19},{"t":2016.8,"s":6,"w":0.37},{"t":2016.8,"s":7,"w":-0.25},{"t":2016.8,"s":8,"w":0.47},{"t":2016.8,"s":9,"w":-0.22},{"t":2016.8,"s":10,"w":0.42},
{"t":2017.5,"s":1,"w":-0.08},{"t":2017.5,"s":2,"w":0.26},{"t":2017.5,"s":3,"w":-0.14},{"t":2017.5,"s":4,"w":0.36},{"t":2017.5,"s":5,"w":-0.16},{"t":2017.5,"s":6,"w":0.38},{"t":2017.5,"s":7,"w":-0.06},{"t":2017.5,"s":8,"w":0.24},{"t":2017.5,"s":9,"w":-0.11},{"t":2017.5,"s":10,"w":0.31},
{"t":2018.1,"s":1,"w":-0.01},{"t":2018.1,"s":2,"w":0.2},{"t":2018.1,"s":3,"w":-0.01},{"t":2018.1,"s":4,"w":0.2},{"t":2018.1,"s":5,"w":-0.01},{"t":2018.1,"s":6,"w":0.2},{"t":2018.1,"s":7,"w":-0.01},{"t":2018.1,"s":8,"w":0.2},{"t":2018.1,"s":9,"w":-0.01},{"t":2018.1,"s":10,"w":0.2},
{"t":2018.2,"s":1,"w":-0.2},{"t":2018.2,"s":2,"w":0.42},{"t":2018.2,"s":3,"w":-0.12},{"t":2018.2,"s":4,"w":0.3},{"t":2018.2,"s":5,"w":-0.13},{"t":2018.2,"s":6,"w":0.31},{"t":2018.2,"s":7,"w":-0.19},{"t":2018.2,"s":8,"w":0.41},{"t":2018.2,"s":9,"w":-0.16},{"t":2018.2,"s":10,"w":0.36},
{"t":2019.1,"s":1,"w":-0.14},{"t":2019.1,"s":2,"w":0.32},{"t":2019.1,"s":3,"w":-0.2},{"t":2019.1,"s":4,"w":0.42},{"t":2019.1,"s":5,"w":-0.22},{"t":2019.1,"s":6,"w":0.44},{"t":2019.1,"s":7,"w":-0.12},{"t":2019.1,"s":8,"w":0.3},{"t":2019.1,"s":9,"w":-0.17},{"t":2019.1,"s":10,"w":0.37},
{"t":2020.3,"s":1,"w":-0.18},{"t":2020.3,"s":2,"w":0.4},{"t":2020.3,"s":3,"w":-0.1},{"t":2020.3,"s":4,"w":0.28},{"t":2020.3,"s":5,"w":-0.11},{"t":2020.3,"s":6,"w":0.29},{"t":2020.3,"s":7,"w":-0.17},{"t":2020.3,"s":8,"w":0.39},{"t":2020.3,"s":9,"w":-0.14},{"t":2020.3,"s":10,"w":0.34},
{"t":2020.4,"s":1,"w":-0.34},{"t":2020.4,"s":2,"w":0.37},{"t":2020.4,"s":3,"w":-0.4},{"t":2020.4,"s":4,"w":0.47},{"t":2020.4,"s":5,"w":-0.42},{"t":2020.4,"s":6,"w":0.64},{"t":2020.4,"s":7,"w":-0.32},{"t":2020.4,"s":8,"w":0.5},{"t":2020.4,"s":9,"w":-0.37},{"t":2020.4,"s":10,"w":0.87},
{"t":2020.94,"s":1,"w":-0.4},{"t":2020.94,"s":2,"w":0.47},{"t":2020.94,"s":3,"w":-0.32},{"t":2020.94,"s":4,"w":0.35},{"t":2020.94,"s":5,"w":-0.33},{"t":2020.94,"s":6,"w":0.51},{"t":2020.94,"s":7,"w":-0.39},{"t":2020.94,"s":8,"w":0.61},{"t":2020.94,"s":9,"w":-0.36},{"t":2020.94,"s":10,"w":0.86}
]
},
"concat":[
{"title":"EW","width":465,"height":161,"data":{"name":"EW"},"mark":{"type":"area","interpolate":"linear"},
"encoding":{
"x":{"field":"t","type":"quantitative","scale":{"domain":[2000.05,2021.94],"nice":false,"zero":false},"axis":{"title":"Year","values":[2002.5,2005,2007.5,2010,2012.5,2015,2017.5,2020],"labelExpr":"datum.value % 5 == 0 ? '' + datum.value : ''","tickOpacity":{"condition":{"test":"datum.value % 5 != 0","value":0},"value":1},"gridWidth":{"condition":{"test":"datum.value % 5 != 0","value":0.8},"value":1.6}}},
"y":{"field":"w","type":"quantitative","stack":"zero","scale":{"domain":[-4.4,4.4],"nice":false},"axis":{"title":"Weights","values":[-4,-3,-2,-1,0,1,2,3,4],"labelExpr":"datum.value % 2 == 0 ? '' + datum.value : ''","tickOpacity":{"condition":{"test":"datum.value % 2 != 0","value":0},"value":1},"gridWidth":{"condition":{"test":"datum.value % 2 != 0","value":0.8},"value":1.6}}},
"color":{"field":"s","type":"nominal","scale":{"domain":[1,2,3,4,5,6,7,8,9,10],"range":["#F8766D","#D89000","#A3A500","#39B600","#00BF7D","#00BFC4","#00B0F6","#9590FF","#E76BF3","#FF62BC"]},"legend":null},
"order":{"field":"s","type":"quantitative","sort":"descending"}}},
{"title":"GMV_robust","width":465,"height":161,"data":{"name":"ROB"},"mark":{"type":"area","interpolate":"linear"},
"encoding":{
"x":{"field":"t","type":"quantitative","scale":{"domain":[2000.05,2021.94],"nice":false,"zero":false},"axis":{"title":"Year","values":[2002.5,2005,2007.5,2010,2012.5,2015,2017.5,2020],"labelExpr":"datum.value % 5 == 0 ? '' + datum.value : ''","tickOpacity":{"condition":{"test":"datum.value % 5 != 0","value":0},"value":1},"gridWidth":{"condition":{"test":"datum.value % 5 != 0","value":0.8},"value":1.6}}},
"y":{"field":"w","type":"quantitative","stack":"zero","scale":{"domain":[-4.4,4.4],"nice":false},"axis":{"title":"Weights","values":[-4,-3,-2,-1,0,1,2,3,4],"labelExpr":"datum.value % 2 == 0 ? '' + datum.value : ''","tickOpacity":{"condition":{"test":"datum.value % 2 != 0","value":0},"value":1},"gridWidth":{"condition":{"test":"datum.value % 2 != 0","value":0.8},"value":1.6}}},
"color":{"field":"s","type":"nominal","scale":{"domain":[1,2,3,4,5,6,7,8,9,10],"range":["#F8766D","#D89000","#A3A500","#39B600","#00BF7D","#00BFC4","#00B0F6","#9590FF","#E76BF3","#FF62BC"]},"legend":null},
"order":{"field":"s","type":"quantitative","sort":"descending"}}},
{"title":"GMV_long","width":465,"height":161,"data":{"name":"LONG"},"mark":{"type":"area","interpolate":"linear"},
"encoding":{
"x":{"field":"t","type":"quantitative","scale":{"domain":[2000.05,2021.94],"nice":false,"zero":false},"axis":{"title":"Year","values":[2002.5,2005,2007.5,2010,2012.5,2015,2017.5,2020],"labelExpr":"datum.value % 5 == 0 ? '' + datum.value : ''","tickOpacity":{"condition":{"test":"datum.value % 5 != 0","value":0},"value":1},"gridWidth":{"condition":{"test":"datum.value % 5 != 0","value":0.8},"value":1.6}}},
"y":{"field":"w","type":"quantitative","stack":"zero","scale":{"domain":[-4.4,4.4],"nice":false},"axis":{"title":"Weights","values":[-4,-3,-2,-1,0,1,2,3,4],"labelExpr":"datum.value % 2 == 0 ? '' + datum.value : ''","tickOpacity":{"condition":{"test":"datum.value % 2 != 0","value":0},"value":1},"gridWidth":{"condition":{"test":"datum.value % 2 != 0","value":0.8},"value":1.6}}},
"color":{"field":"s","type":"nominal","scale":{"domain":[1,2,3,4,5,6,7,8,9,10],"range":["#F8766D","#D89000","#A3A500","#39B600","#00BF7D","#00BFC4","#00B0F6","#9590FF","#E76BF3","#FF62BC"]},"legend":null},
"order":{"field":"s","type":"quantitative","sort":"descending"}}},
{"title":"GMV","width":465,"height":161,"data":{"name":"GMV"},"mark":{"type":"area","interpolate":"linear"},
"encoding":{
"x":{"field":"t","type":"quantitative","scale":{"domain":[2000.05,2021.94],"nice":false,"zero":false},"axis":{"title":"Year","values":[2002.5,2005,2007.5,2010,2012.5,2015,2017.5,2020],"labelExpr":"datum.value % 5 == 0 ? '' + datum.value : ''","tickOpacity":{"condition":{"test":"datum.value % 5 != 0","value":0},"value":1},"gridWidth":{"condition":{"test":"datum.value % 5 != 0","value":0.8},"value":1.6}}},
"y":{"field":"w","type":"quantitative","stack":"zero","scale":{"domain":[-4.4,4.4],"nice":false},"axis":{"title":"Weights","values":[-4,-3,-2,-1,0,1,2,3,4],"labelExpr":"datum.value % 2 == 0 ? '' + datum.value : ''","tickOpacity":{"condition":{"test":"datum.value % 2 != 0","value":0},"value":1},"gridWidth":{"condition":{"test":"datum.value % 2 != 0","value":0.8},"value":1.6}}},
"color":{"field":"s","type":"nominal","scale":{"domain":[1,2,3,4,5,6,7,8,9,10],"range":["#F8766D","#D89000","#A3A500","#39B600","#00BF7D","#00BFC4","#00B0F6","#9590FF","#E76BF3","#FF62BC"]},"legend":null},
"order":{"field":"s","type":"quantitative","sort":"descending"}}},
{"title":"GMV_lin","width":465,"height":161,"data":{"name":"LIN"},"mark":{"type":"area","interpolate":"linear"},
"encoding":{
"x":{"field":"t","type":"quantitative","scale":{"domain":[2000.05,2021.94],"nice":false,"zero":false},"axis":{"title":"Year","values":[2002.5,2005,2007.5,2010,2012.5,2015,2017.5,2020],"labelExpr":"datum.value % 5 == 0 ? '' + datum.value : ''","tickOpacity":{"condition":{"test":"datum.value % 5 != 0","value":0},"value":1},"gridWidth":{"condition":{"test":"datum.value % 5 != 0","value":0.8},"value":1.6}}},
"y":{"field":"w","type":"quantitative","stack":"zero","scale":{"domain":[-4.4,4.4],"nice":false},"axis":{"title":"Weights","values":[-4,-3,-2,-1,0,1,2,3,4],"labelExpr":"datum.value % 2 == 0 ? '' + datum.value : ''","tickOpacity":{"condition":{"test":"datum.value % 2 != 0","value":0},"value":1},"gridWidth":{"condition":{"test":"datum.value % 2 != 0","value":0.8},"value":1.6}}},
"color":{"field":"s","type":"nominal","scale":{"domain":[1,2,3,4,5,6,7,8,9,10],"range":["#F8766D","#D89000","#A3A500","#39B600","#00BF7D","#00BFC4","#00B0F6","#9590FF","#E76BF3","#FF62BC"]},"legend":null},
"order":{"field":"s","type":"quantitative","sort":"descending"}}},
{"title":"GMV_nlin","width":465,"height":161,"data":{"name":"NLIN"},"mark":{"type":"area","interpolate":"linear"},
"encoding":{
"x":{"field":"t","type":"quantitative","scale":{"domain":[2000.05,2021.94],"nice":false,"zero":false},"axis":{"title":"Year","values":[2002.5,2005,2007.5,2010,2012.5,2015,2017.5,2020],"labelExpr":"datum.value % 5 == 0 ? '' + datum.value : ''","tickOpacity":{"condition":{"test":"datum.value % 5 != 0","value":0},"value":1},"gridWidth":{"condition":{"test":"datum.value % 5 != 0","value":0.8},"value":1.6}}},
"y":{"field":"w","type":"quantitative","stack":"zero","scale":{"domain":[-4.4,4.4],"nice":false},"axis":{"title":"Weights","values":[-4,-3,-2,-1,0,1,2,3,4],"labelExpr":"datum.value % 2 == 0 ? '' + datum.value : ''","tickOpacity":{"condition":{"test":"datum.value % 2 != 0","value":0},"value":1},"gridWidth":{"condition":{"test":"datum.value % 2 != 0","value":0.8},"value":1.6}}},
"color":{"field":"s","type":"nominal","scale":{"domain":[1,2,3,4,5,6,7,8,9,10],"range":["#F8766D","#D89000","#A3A500","#39B600","#00BF7D","#00BFC4","#00B0F6","#9590FF","#E76BF3","#FF62BC"]},"legend":null},
"order":{"field":"s","type":"quantitative","sort":"descending"}}}
]
}
